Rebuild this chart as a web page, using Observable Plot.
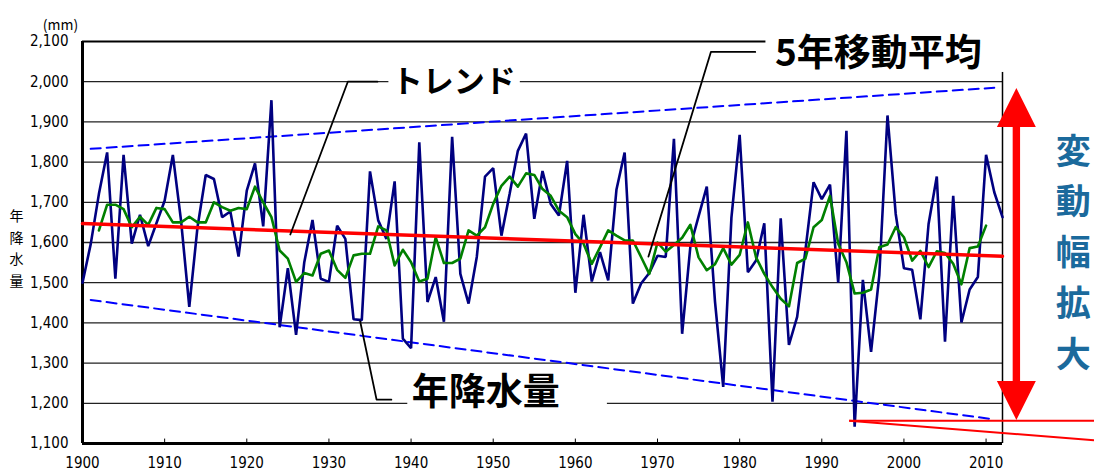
<!DOCTYPE html>
<html><head><meta charset="utf-8">
<script src="https://cdn.jsdelivr.net/npm/d3@7"></script>
<script src="https://cdn.jsdelivr.net/npm/@observablehq/plot@0.6"></script>
<style>
body{margin:0;background:#fff}
#chart svg{display:block;overflow:visible}
</style>
</head><body><div id="chart"></div>
<script>
// Annual precipitation (mm), 1900-2012
const startYear = 1900;
const precip = [1500,1596,1721,1824,1510,1818,1597,1669,1591,1648,
1704,1818,1654,1440,1638,1768,1758,1663,1677,1565,
1729,1797,1640,1954,1389,1536,1370,1551,1656,1510,
1502,1642,1609,1409,1407,1777,1655,1609,1752,1361,
1337,1849,1452,1514,1403,1863,1522,1448,1564,1764,
1785,1617,1721,1828,1871,1659,1778,1696,1667,1803,
1475,1669,1503,1576,1506,1731,1824,1448,1498,1524,
1567,1564,1858,1373,1590,1665,1739,1453,1241,1662,
1868,1526,1555,1648,1204,1660,1345,1415,1580,1750,
1708,1744,1500,1878,1142,1507,1328,1518,1916,1671,
1536,1532,1409,1646,1764,1353,1716,1401,1483,1514,
1818,1725,1663];
// 5-year moving average (mm), 1902-2010
const maStart = 1902;
const movingAvg = [1630,1694,1694,1683,1638,1664,1644,1686,
1683,1650,1650,1664,1650,1650,1700,1688,1679,1686,
1683,1739,1700,1663,1580,1560,1502,1524,1518,1572,
1580,1532,1512,1568,1572,1572,1640,1630,1543,1582,
1551,1503,1510,1613,1549,1549,1560,1630,1617,1638,
1696,1741,1764,1739,1772,1768,1733,1716,1679,1663,
1621,1597,1547,1588,1630,1617,1605,1605,1564,1522,
1600,1577,1594,1612,1644,1563,1531,1546,1586,1545,
1569,1650,1563,1522,1489,1460,1441,1549,1560,1638,
1656,1716,1597,1551,1473,1475,1483,1588,1595,1638,
1613,1555,1579,1539,1578,1574,1547,1496,1586,1590,
1642];
// Trend and envelope lines [year, mm]
const trend = [[1900,1647],[2012,1566]];
const upperEnv = [[1901,1833],[2011,1985]];
const lowerEnv = [[1901,1457],[2011,1160]];
// Tick labels
const yTicks = [1100,1200,1300,1400,1500,1600,1700,1800,1900,2000,2100];
const xTicks = [1900,1910,1920,1930,1940,1950,1960,1970,1980,1990,2000,2010];
// Annotation texts
const labelTrend = "トレンド";
const labelMA = "5年移動平均";
const labelPrecip = "年降水量";
const labelSpread = "変動幅拡大";
const yTitle = "年降水量";
const unit = "(mm)";

const series = precip.map((v,i)=>({year:startYear+i, v}));
const maSeries = movingAvg.map((v,i)=>({year:maStart+i, v}));

const jp = "'Noto Sans CJK JP', 'Noto Sans', sans-serif";
const num = "'Liberation Sans Narrow', 'DejaVu Sans Condensed', 'Liberation Sans', sans-serif";

const boxes = [
  {x1:1937.3, x2:1953.3, y1:1953, y2:2045},
  {x1:1983.2, x2:2013.0, y1:2023, y2:2130},
  {x1:1939.6, x2:1963.9, y1:1162, y2:1262}
];
const leaders = [
  [[1925.3,1620],[1932.3,2000],[1935.9,2000]],
  [[1968.9,1565],[1976.5,2074],[1981.9,2074]],
  [[1933.8,1404],[1935.8,1209],[1937.6,1209]]
];
const texts = [
  {x:1945.2, y:1998, t:labelTrend, fs:31},
  {x:1996.9, y:2069, t:labelMA, fs:37},
  {x:1949.1, y:1224, t:labelPrecip, fs:37}
];

const plot = Plot.plot({
  width:1094, height:475,
  marginLeft:82, marginRight:92, marginTop:41, marginBottom:32,
  x:{domain:[1900,2012]},
  y:{domain:[1100,2100]},
  style:{fontFamily:num, fontSize:"15px", color:"#000", background:"#fff", overflow:"visible"},
  marks:[
    Plot.ruleY(yTicks.filter(d=>d>1100 && d<2100), {stroke:"#222", strokeWidth:1.3}),
    Plot.ruleY([2100], {stroke:"#000", strokeWidth:2}),
    Plot.ruleX([2012], {stroke:"#000", strokeWidth:1.5}),
    Plot.ruleX([1900], {stroke:"#000", strokeWidth:3}),
    Plot.ruleY([1100], {stroke:"#000", strokeWidth:3}),
    Plot.ruleX(xTicks.slice(1), {y1:1100, y2:1111, stroke:"#000", strokeWidth:1}),
    Plot.axisY({ticks:yTicks, tickSize:0, tickPadding:14, tickFormat:d3.format(","), label:null, fontSize:15}),
    Plot.axisX({ticks:xTicks, tickSize:0, tickPadding:14, tickFormat:d=>String(d), label:null, fontSize:15}),
    Plot.rect(boxes, {x1:"x1", x2:"x2", y1:"y1", y2:"y2", fill:"#fff"}),
    Plot.line(upperEnv, {x:d=>d[0], y:d=>d[1], stroke:"#0000ff", strokeWidth:2, strokeDasharray:"10,6"}),
    Plot.line(lowerEnv, {x:d=>d[0], y:d=>d[1], stroke:"#0000ff", strokeWidth:2, strokeDasharray:"10,6"}),
    Plot.line(series, {x:"year", y:"v", stroke:"#000080", strokeWidth:2.6, strokeLinejoin:"miter"}),
    Plot.line(maSeries, {x:"year", y:"v", stroke:"#008000", strokeWidth:2.6}),
    Plot.line(trend, {x:d=>d[0], y:d=>d[1], stroke:"#ff0000", strokeWidth:3.5}),
    ...leaders.map(l=>Plot.line(l, {x:d=>d[0], y:d=>d[1], stroke:"#000", strokeWidth:1.8})),
    Plot.text(texts, {x:"x", y:"y", text:"t", fontSize:d=>d.fs, fontWeight:"bold", fontFamily:jp, fill:"#000"}),
    Plot.text([unit], {frameAnchor:"top-left", dx:-22, dy:-21, textAnchor:"middle", fontSize:14, fontFamily:jp}),
    Plot.text([yTitle.split("").join("\n")], {frameAnchor:"left", dx:-66, dy:4, textAnchor:"middle", fontSize:14, lineHeight:1.55, fontFamily:jp}),
    Plot.text([labelSpread.split("").join("\n")], {x:2020.6, y:1584, fontSize:35, lineHeight:1.45, fontWeight:"bold", fontFamily:jp, fill:"#1b6a9c"})
  ]
});
document.getElementById("chart").appendChild(plot);

// red double arrow and bottom lines, positioned through the plot scales
const sx = plot.scale("x"), sy = plot.scale("y");
const svgSel = d3.select(plot);
const arrowX = 2013.75, arrowTop = 1983, arrowTopBase = 1886, arrowBotBase = 1254, arrowBot = 1157, halfHead = 2.37, halfShaft = 0.45;
const pts = [[arrowX,arrowTop],[arrowX+halfHead,arrowTopBase],[arrowX+halfShaft,arrowTopBase],[arrowX+halfShaft,arrowBotBase],[arrowX+halfHead,arrowBotBase],[arrowX,arrowBot],
             [arrowX-halfHead,arrowBotBase],[arrowX-halfShaft,arrowBotBase],[arrowX-halfShaft,arrowTopBase],[arrowX-halfHead,arrowTopBase]];
svgSel.append("path").attr("d", "M"+pts.map(p=>[sx.apply(p[0]), sy.apply(p[1])].join(",")).join("L")+"Z").attr("fill","#ff0000");
const redLines = [[[1993.4,1155.5],[2023.2,1155.5]],[[1993.4,1155.5],[2023.2,1107]]];
redLines.forEach(l=>svgSel.append("line")
  .attr("x1",sx.apply(l[0][0])).attr("y1",sy.apply(l[0][1]))
  .attr("x2",sx.apply(l[1][0])).attr("y2",sy.apply(l[1][1]))
  .attr("stroke","#ff0000").attr("stroke-width",2));
</script>
</body></html>
